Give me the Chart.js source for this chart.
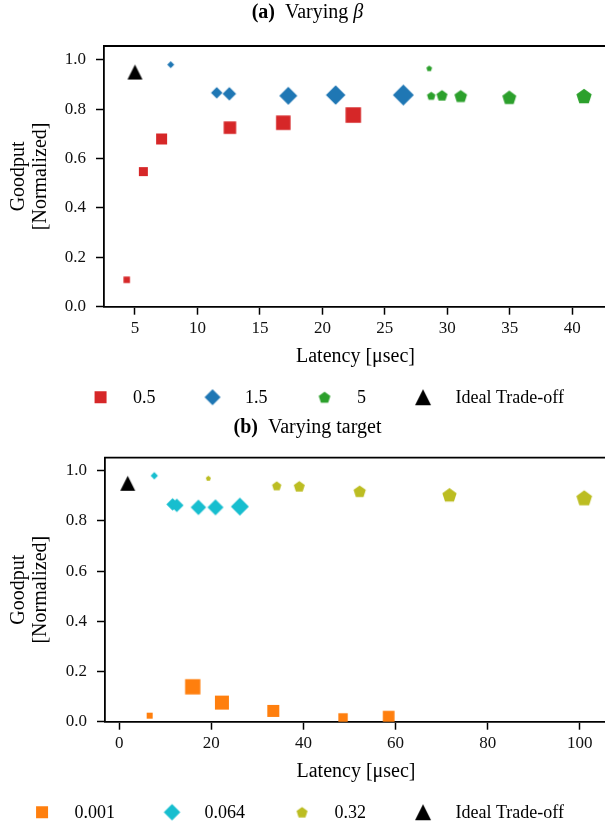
<!DOCTYPE html>
<html>
<head>
<meta charset="utf-8">
<script src="https://cdn.jsdelivr.net/npm/chart.js@4.4.1/dist/chart.umd.min.js"></script>
<style>
  html, body { margin: 0; padding: 0; background: #fff; overflow: hidden; }
  #wrap { position: relative; width: 605px; height: 822px; overflow: hidden; }
  canvas { position: absolute; left: 0; }
</style>
</head>
<body>
<div id="wrap">
  <canvas id="chart_beta" width="612" height="411" style="top:0"></canvas>
  <canvas id="chart_target" width="612" height="411" style="top:411px"></canvas>
</div>
<script>
// (a) varying beta
var betaLabels = ['0.5', '1.5', '5', 'Ideal Trade-off'];
var beta05X = [4.34, 5.67, 7.13, 12.6, 16.87, 22.47];
var beta05Y = [0.109, 0.547, 0.679, 0.725, 0.745, 0.776];
var beta15X = [7.86, 11.54, 12.55, 17.27, 21.06, 26.48];
var beta15Y = [0.980, 0.866, 0.862, 0.854, 0.857, 0.857];
var beta5X = [28.55, 28.71, 29.57, 31.07, 34.96, 40.94];
var beta5Y = [0.965, 0.854, 0.856, 0.853, 0.848, 0.853];
var idealAX = [5.0];
var idealAY = [0.95];

// (b) varying target
var targetLabels = ['0.001', '0.064', '0.32', 'Ideal Trade-off'];
var t001X = [6.62, 15.96, 22.3, 33.45, 48.6, 58.5];
var t001Y = [0.024, 0.139, 0.076, 0.043, 0.015, 0.02];
var t064X = [7.62, 11.6, 12.5, 17.2, 20.9, 26.2];
var t064Y = [0.980, 0.866, 0.862, 0.854, 0.854, 0.857];
var t032X = [19.35, 34.2, 39.1, 52.2, 71.7, 100.95];
var t032Y = [0.970, 0.940, 0.938, 0.918, 0.904, 0.892];
var idealBX = [1.85];
var idealBY = [0.95];

var xTicksA = [5, 10, 15, 20, 25, 30, 35, 40];
var xTicksB = [0, 20, 40, 60, 80, 100];
var yTicks = [0, 0.2, 0.4, 0.6, 0.8, 1.0];

// marker sizes in px (styling only)
var sizeBeta05 = [6.5, 9, 11, 12.5, 14.5, 15.5];
var sizeBeta15 = [7, 11.5, 13.5, 18, 19.5, 21];
var sizeBeta5 = [5.7, 8.5, 11, 12.7, 14, 15.3];
var sizeT001 = [6, 15.3, 14, 12, 9.4, 11.7];
var sizeT064 = [7.3, 12.5, 13.5, 15.5, 16, 18];
var sizeT032 = [5, 9.3, 11, 12.3, 14.3, 15.7];

var SERIF = '"Liberation Serif"';

function makeMarker(shape, s, color) {
  var c = document.createElement('canvas');
  var n = Math.ceil(s) + 4;
  c.width = n; c.height = n;
  var g = c.getContext('2d');
  var m = n / 2, h = s / 2;
  g.fillStyle = color;
  g.beginPath();
  if (shape === 'square') {
    g.rect(m - h, m - h, s, s);
  } else if (shape === 'diamond') {
    g.moveTo(m, m - h); g.lineTo(m + h, m); g.lineTo(m, m + h); g.lineTo(m - h, m);
  } else if (shape === 'triangle') {
    g.moveTo(m, m - h); g.lineTo(m + h, m + h); g.lineTo(m - h, m + h);
  } else {
    var r = s / 1.902;
    var dy = 0.095 * r;
    for (var k = 0; k < 5; k++) {
      var a = -Math.PI / 2 + k * 2 * Math.PI / 5;
      g.lineTo(m + r * Math.cos(a), m + dy + r * Math.sin(a));
    }
  }
  g.closePath();
  g.fill();
  return c;
}

function series(label, xs, ys, shape, sizes, color, legendSize) {
  return {
    label: label,
    data: xs.map(function (x, i) { return {x: x, y: ys[i]}; }),
    pointStyle: sizes.map(function (s) { return makeMarker(shape, s, color); }),
    pointRadius: 4,
    backgroundColor: color,
    borderColor: color,
    borderWidth: 0,
    showLine: false,
    clip: 0,
    legendMarker: makeMarker(shape, legendSize, color)
  };
}

// top spine, panel title and the legend row under the axis
var paperDecor = {
  id: 'paperDecor',
  afterDraw: function (chart, args, opts) {
    var ctx = chart.ctx, area = chart.chartArea;
    ctx.save();
    ctx.strokeStyle = '#000';
    ctx.lineWidth = 1.8;
    ctx.beginPath();
    ctx.moveTo(area.left - 0.9, area.top);
    ctx.lineTo(chart.width, area.top);
    ctx.stroke();

    // title
    var parts = opts.title;
    var total = 0;
    parts.forEach(function (p) { ctx.font = p.font; p.w = ctx.measureText(p.text).width; total += p.w + (p.gap || 0); });
    var tx = opts.titleCenter - total / 2;
    ctx.fillStyle = '#000';
    ctx.textBaseline = 'alphabetic';
    parts.forEach(function (p) { ctx.font = p.font; ctx.fillText(p.text, tx, opts.titleY); tx += p.w + (p.gap || 0); });

    // legend, anchored on the right
    ctx.font = '18px ' + SERIF;
    var ly = area.bottom + 90.5;
    var x = opts.legendRight;
    var sets = chart.data.datasets;
    for (var i = sets.length - 1; i >= 0; i--) {
      var ds = sets[i];
      var w = ctx.measureText(ds.label).width;
      var textX = x - w;
      ctx.fillText(ds.label, textX, ly + 5.5);
      var mx = textX - 32.5;
      var mk = ds.legendMarker;
      ctx.drawImage(mk, mx - mk.width / 2, ly - mk.height / 2);
      x = mx - 57;
    }
    ctx.restore();
  }
};

function axes(xmin, xmax, xTicks, yWidth, ymax) {
  var tickFont = {family: SERIF, size: 17};
  var grid = {drawOnChartArea: false, drawTicks: true, tickLength: 8, tickWidth: 1.5, tickColor: '#000'};
  var border = {display: true, color: '#000', width: 1.8};
  return {
    x: {
      type: 'linear', min: xmin, max: xmax,
      afterBuildTicks: function (s) { s.ticks = xTicks.map(function (v) { return {value: v}; }); },
      afterFit: function (s) { s.height = 66; },
      grid: grid, border: border,
      ticks: {color: '#111', font: tickFont, padding: 4, maxRotation: 0, autoSkip: false,
        callback: function (v) { return String(v); }},
      title: {display: true, text: 'Latency [μsec]', color: '#000',
        font: {family: SERIF, size: 20}, padding: {top: 0, bottom: 4}}
    },
    y: {
      type: 'linear', min: 0, max: ymax,
      afterBuildTicks: function (s) { s.ticks = yTicks.map(function (v) { return {value: v}; }); },
      afterFit: function (s) { s.width = yWidth; },
      grid: grid, border: border,
      ticks: {color: '#111', font: tickFont, padding: 10,
        callback: function (v) { return v.toFixed(1); }},
      title: {display: true, text: ['Goodput', '[Normalized]'], color: '#000',
        font: {family: SERIF, size: 20, lineHeight: 1.1}, padding: {top: 8, bottom: 0}}
    }
  };
}

function makeChart(id, datasets, scales, padding, decor) {
  return new Chart(document.getElementById(id), {
    type: 'scatter',
    data: {datasets: datasets},
    options: {
      responsive: false,
      animation: false,
      events: [],
      layout: {padding: padding},
      scales: scales,
      plugins: {legend: {display: false}, tooltip: {enabled: false}, paperDecor: decor}
    },
    plugins: [paperDecor]
  });
}

var chartBeta = makeChart('chart_beta', [
  series(betaLabels[0], beta05X, beta05Y, 'square', sizeBeta05, '#d62728', 12),
  series(betaLabels[1], beta15X, beta15Y, 'diamond', sizeBeta15, '#1f77b4', 16),
  series(betaLabels[2], beta5X, beta5Y, 'pentagon', sizeBeta5, '#2ca02c', 11.7),
  series(betaLabels[3], idealAX, idealAY, 'triangle', [15], '#000000', 16)
], axes(2.52, 42.78, xTicksA, 104, 1.0555),
  {top: 46, left: 0, right: 5, bottom: 38.3},
  {
    title: [
      {text: '(a)', font: 'bold 20px ' + SERIF, gap: 10},
      {text: 'Varying', font: '20px ' + SERIF, gap: 5},
      {text: 'β', font: 'italic 20px ' + SERIF}
    ],
    titleCenter: 307.5, titleY: 18, legendRight: 564
  });

var chartTarget = makeChart('chart_target', [
  series(targetLabels[0], t001X, t001Y, 'square', sizeT001, '#ff7f0e', 12),
  series(targetLabels[1], t064X, t064Y, 'diamond', sizeT064, '#17becf', 16.5),
  series(targetLabels[2], t032X, t032Y, 'pentagon', sizeT032, '#bcbd22', 11),
  series(targetLabels[3], idealBX, idealBY, 'triangle', [15], '#000000', 16)
], axes(-3.08, 105.9, xTicksB, 105, 1.0518),
  {top: 46.7, left: 0, right: 5, bottom: 34.3},
  {
    title: [
      {text: '(b)', font: 'bold 20px ' + SERIF, gap: 10},
      {text: 'Varying target', font: '20px ' + SERIF}
    ],
    titleCenter: 307.5, titleY: 21.5, legendRight: 564
  });
</script>
</body>
</html>
